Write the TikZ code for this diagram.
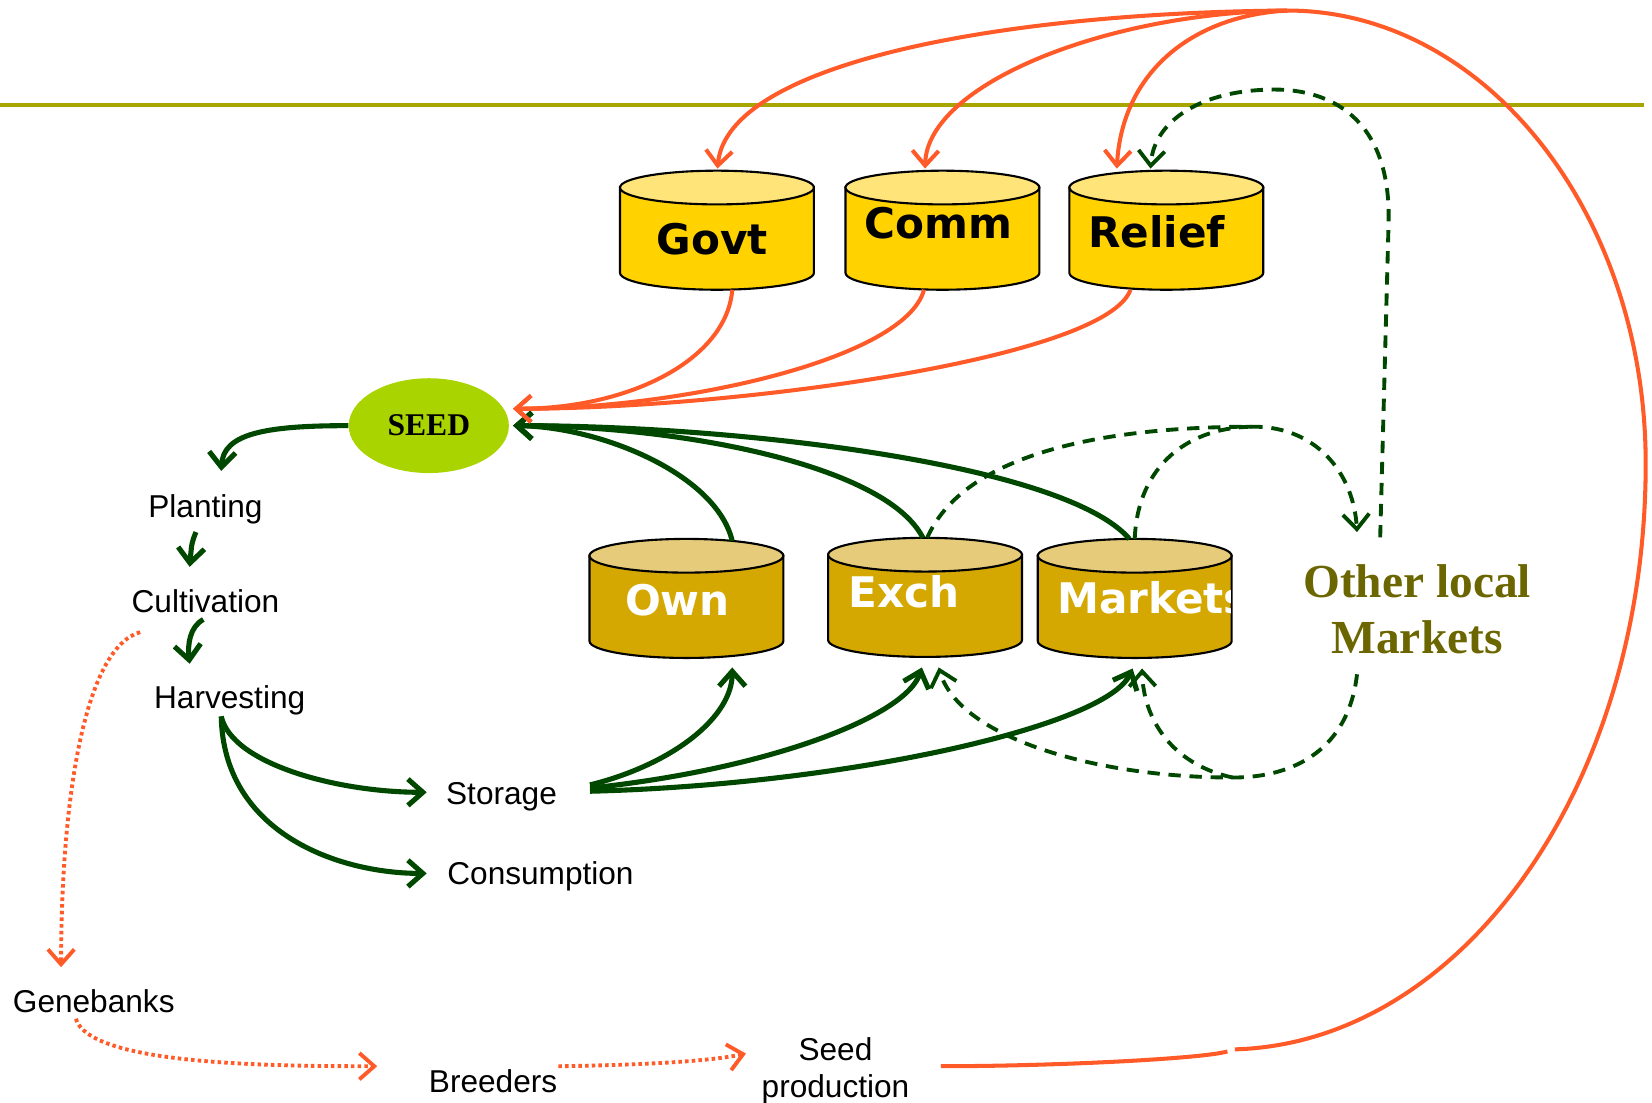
\documentclass[tikz,border=0pt]{standalone}
\usepackage{fontspec}
\setmainfont{Liberation Sans}
\newfontfamily\tankfont{DejaVu Sans}
\newfontfamily\timesfont{Liberation Serif}
\usetikzlibrary{arrows.meta,shapes.geometric,calc}
\definecolor{gold}{RGB}{255,210,0}
\definecolor{goldtop}{RGB}{255,228,122}
\definecolor{dgold}{RGB}{212,168,0}
\definecolor{dgoldtop}{RGB}{230,204,122}
\definecolor{orng}{RGB}{255,90,40}
\definecolor{dgreen}{RGB}{0,72,0}
\definecolor{oliveline}{RGB}{168,165,0}
\definecolor{olivetext}{RGB}{107,102,0}
\definecolor{seedc}{RGB}{170,212,0}
\tikzset{
  pics/tank/.style 2 args={code={
    \filldraw[fill=#1, line width=1.2pt] (-92,-40.5) -- (-92,40.5)
      arc[start angle=180,end angle=0,x radius=92,y radius=16] -- (92,-40.5) -- cycle;
    \filldraw[fill=#2, line width=1.2pt] (0,-40.5) ellipse[x radius=92,y radius=16];
    \coordinate (-top) at (0,-56.5);
    \coordinate (-bot) at (0,56.5);
  }},
  vtip/.style={-{Straight Barb[length=8.5pt,width=15pt]}},
  garr/.style={draw=dgreen, line width=2.9pt, vtip},
  oarr/.style={draw=orng, line width=2.3pt, vtip},
  oline/.style={draw=orng, line width=2.3pt},
  gdash/.style={draw=dgreen, line width=2.2pt, dash pattern=on 7pt off 5pt},
  gdarr/.style={gdash, vtip},
  odot/.style={draw=orng, line width=2.2pt, dash pattern=on 2pt off 1.8pt, vtip},
  lbl/.style={font=\fontsize{18}{21}\selectfont, inner sep=0pt},
  tanklbl/.style={font=\tankfont\bfseries\fontsize{24}{28}\selectfont, inner sep=0pt},
}
\begin{document}
\begin{tikzpicture}[x=0.6pt,y=-0.6pt]
\useasboundingbox (0,0) rectangle (1568,1046);
\draw[draw=oliveline, line width=2.4pt] (0,100) -- (1560,100);

% tanks
\pic (govt) at (680.5,218.5) {tank={gold}{goldtop}};
\pic (comm) at (894.5,218.5) {tank={gold}{goldtop}};
\pic (relief) at (1107,218.5) {tank={gold}{goldtop}};
\pic (own) at (651.5,568) {tank={dgold}{dgoldtop}};
\pic (exch) at (878,567) {tank={dgold}{dgoldtop}};
\pic (markets) at (1077,568) {tank={dgold}{dgoldtop}};
\node[tanklbl] (govtl) at (676,227) {Govt};
\node[tanklbl] (comml) at (891,212) {Comm};
\node[tanklbl] (reliefl) at (1098,220) {Relief};
\node[tanklbl, text=white] (ownl) at (643,570) {Own};
\node[tanklbl, text=white] (exchl) at (858,562) {Exch};
\begin{scope}
  \clip (985,500) rectangle (1168,640);
  \node[tanklbl, text=white, anchor=west] (marketsl) at (1003,567) {Markets};
\end{scope}

% text nodes
\node[ellipse, fill=seedc, minimum width=91.2pt, minimum height=54pt, inner sep=0pt,
      font=\timesfont\bfseries\fontsize{18}{20}\selectfont] (seed) at (407,404) {SEED};
\node[lbl] (planting) at (195,483) {Planting};
\node[lbl] (cultivation) at (195,571) {Cultivation};
\node[lbl] (harvesting) at (218,665) {Harvesting};
\node[lbl] (storage) at (476,756) {Storage};
\node[lbl] (consumption) at (513,832) {Consumption};
\node[lbl] (genebanks) at (89,950) {Genebanks};
\node[lbl] (breeders) at (468,1026) {Breeders};
\node[lbl, align=center] (seedprod) at (793,1016) {Seed\\production};
\node[inner sep=0pt, align=center, text=olivetext,
      font=\timesfont\bfseries\fontsize{27}{32}\selectfont] (olm) at (1345,578) {Other local\\Markets};

% helper coordinates
\coordinate (otop) at (1222,10);
\coordinate (g1) at (1165,998);
\coordinate (g2) at (1172,996);
\coordinate (j1) at (1190,405);
\coordinate (j2) at (1170,738);

% farmer cycle
\draw[garr] (seed.west) .. controls (250,404) and (212,412) .. ([shift={(15,-36)}]planting.center);
\draw[garr] ([shift={(-9,22)}]planting.center) .. controls (182,515) .. ([shift={(-15,-33)}]cultivation.center);
\draw[garr] ([shift={(-2,17)}]cultivation.center) .. controls (180,595) and (178,612) .. ([shift={(-38,-35)}]harvesting.center);
\draw[garr] ([shift={(-8,15)}]harvesting.center) .. controls (220,725) and (320,752) .. ([shift={(-71,-4)}]storage.center);
\draw[garr] ([shift={(-8,15)}]harvesting.center) .. controls (212,790) and (320,829) .. ([shift={(-108,-3)}]consumption.center);

% storage to tanks
\draw[garr] ([shift={(84,-11)}]storage.center) .. controls (640,725) and (695,680) .. ([shift={(43.5,9)}]own-bot);
\draw[garr] ([shift={(84,-8)}]storage.center) .. controls (730,730) and (860,680) .. ([shift={(-3,10)}]exch-bot);
\draw[garr] ([shift={(84,-5)}]storage.center) .. controls (800,745) and (1050,690) .. ([shift={(-2,10)}]markets-bot);

% local tanks to seed
\draw[garr] ([shift={(43.5,2)}]own-top) .. controls (680,450) and (570,405) .. ([shift={(80,0)}]seed.center);
\draw[garr] ([shift={(-2,0)}]exch-top) .. controls (840,440) and (640,404) .. ([shift={(80,0)}]seed.center);
\draw[garr] ([shift={(-5,0)}]markets-top) .. controls (1010,440) and (700,404) .. ([shift={(80,0)}]seed.center);

% formal tanks to seed
\draw[oarr] ([shift={(14.5,0)}]govt-bot) .. controls (690,340) and (600,388) .. ([shift={(80,-16)}]seed.center);
\draw[oarr] ([shift={(-17.5,0)}]comm-bot) .. controls (860,340) and (650,388) .. ([shift={(80,-16)}]seed.center);
\draw[oarr] ([shift={(-34,0)}]relief-bot) .. controls (1050,340) and (700,388) .. ([shift={(80,-16)}]seed.center);

% formal chain
\draw[odot] ([shift={(-62,29)}]cultivation.center) .. controls (80,615) and (58,760) .. ([shift={(-31,-32)}]genebanks.center);
\draw[odot] ([shift={(-17,17)}]genebanks.center) .. controls (85,1010) and (250,1012) .. ([shift={(-110,-14)}]breeders.center);
\draw[odot] ([shift={(62,-14)}]breeders.center) .. controls (600,1011) and (670,1008) .. ([shift={(-85,-16)}]seedprod.center);
\draw[oline] ([shift={(100,-4)}]seedprod.center) .. controls (1000,1012) and (1140,1005) .. (g1);
\draw[oline] (g2) .. controls (1387,990) and (1562,747) .. (1562,440)
   .. controls (1562,203) and (1410,10) .. (otop);
\draw[oarr] (otop) .. controls (950,12) and (690,60) .. ([shift={(0.5,-2)}]govt-top);
\draw[oarr] (otop) .. controls (1050,12) and (880,80) .. ([shift={(-16.5,-2)}]comm-top);
\draw[oarr] (otop) .. controls (1130,15) and (1065,70) .. ([shift={(-47,-2)}]relief-top);

% other local markets
\draw[gdarr] ([shift={(-35,-68)}]olm.center) -- (1318,210) .. controls (1320,110) and (1260,85) .. (1210,85)
   .. controls (1140,85) and (1095,115) .. ([shift={(-15,-2)}]relief-top);
\draw[gdarr] ([shift={(2,0)}]exch-top) .. controls (920,420) and (1080,405) .. (j1)
   .. controls (1250,405) and (1285,450) .. ([shift={(-57,-73)}]olm.center);
\draw[gdash] (markets-top) .. controls (1080,440) and (1130,405) .. (j1);
\draw[gdarr] ([shift={(-57,62)}]olm.center) .. controls (1280,710) and (1230,738) .. (j2)
   .. controls (1040,738) and (910,700) .. ([shift={(13,10)}]exch-bot);
\draw[gdarr] (j2) .. controls (1110,725) and (1085,680) .. ([shift={(7,10)}]markets-bot);
\end{tikzpicture}
\end{document}
